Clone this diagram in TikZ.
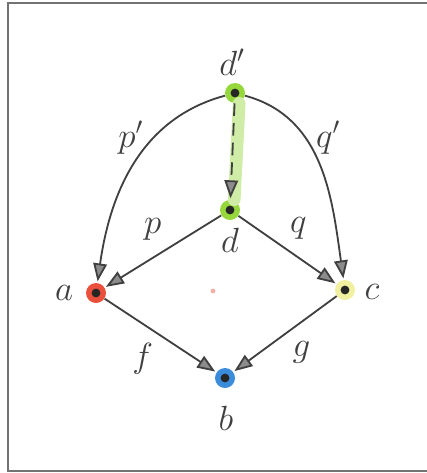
\documentclass[tikz,border=0pt]{standalone}
\usepackage{amsmath,amssymb}
\usepackage{xcolor}
\usepackage{tikz}
\usetikzlibrary{arrows.meta,positioning}

\definecolor{dgreen}{RGB}{150,215,60}
\definecolor{ared}{RGB}{235,80,60}
\definecolor{cyellow}{RGB}{240,240,160}
\definecolor{bblue}{RGB}{60,140,220}

\begin{document}
\begin{tikzpicture}[
    x=0.025cm, y=-0.025cm,
    obj/.style={circle, fill=#1, minimum size=5mm, inner sep=0pt,
        path picture={\fill[black!85] (path picture bounding box.center) circle (1.1mm);}},
    lbl/.style={font=\fontsize{24}{28}\selectfont, text=black!75},
    arrow/.style={-{Triangle[length=4.5mm, width=3.4mm, fill=black!45]}, draw=black!75, line width=1.3pt, shorten >=1pt}
]
% frame
\useasboundingbox (0,0) rectangle (427,473);
\draw[black!55, line width=1.2pt] (430,3) -- (8,3) -- (8,471) -- (430,471);

% objects
\node[obj=dgreen] (dd) at (235,93) {};
\node[obj=dgreen] (d) at (230,210) {};
\node[obj=ared] (a) at (96,293) {};
\node[obj=cyellow] (c) at (345,290) {};
\node[obj=bblue] (b) at (225,378) {};
\fill[ared!45] (213,291) circle (0.6mm);

\node[lbl] (ddlbl) at (232,62) {$d'$};
\node[lbl] (dlbl) at (230,240) {$d$};
\node[lbl] (albl) at (64,293) {$a$};
\node[lbl] (clbl) at (372,292) {$c$};
\node[lbl] (blbl) at (226,418) {$b$};

% unique map, highlighted
\draw[dgreen!45, line width=9pt, line cap=round] ([xshift=3pt]dd.south) -- ([xshift=3pt]d.north);
\draw[arrow, dashed, dash pattern=on 9pt off 5pt] (dd) -- (d);

% cone and square
\draw[arrow] (dd) to[out=195, in=82] node[lbl, pos=0.35, left=4pt] {$p'$} (a);
\draw[arrow] (dd) to[out=-15, in=98] node[lbl, pos=0.35, right=4pt] {$q'$} (c);
\draw[arrow] (d) -- node[lbl, pos=0.45, above left=2pt] {$p$} (a);
\draw[arrow] (d) -- node[lbl, pos=0.45, above right=2pt] {$q$} (c);
\draw[arrow] (a) -- node[lbl, pos=0.5, below left=2pt] {$f$} (b);
\draw[arrow] (c) -- node[lbl, pos=0.5, below right=2pt] {$g$} (b);
\end{tikzpicture}
\end{document}
